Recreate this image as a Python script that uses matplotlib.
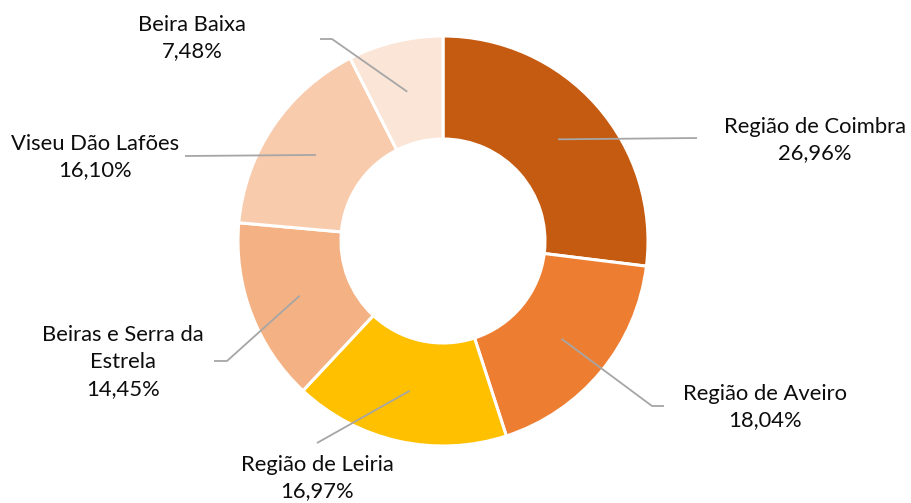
import numpy as np
import matplotlib
matplotlib.use("Agg")
from matplotlib import pyplot as plt

## chart data
regions = ["Região de Coimbra", "Região de Aveiro", "Região de Leiria",
           "Beiras e Serra da\nEstrela", "Viseu Dão Lafões", "Beira Baixa"]
shares = [26.96, 18.04, 16.97, 14.45, 16.10, 7.48]
colours = ["#C55A11", "#ED7D31", "#FFC000", "#F4B183", "#F8CBAD", "#FBE5D6"]

## layout (pixel coords of the 911x503 picture, y down)
W, H = 911, 503
centre_px = (443, 241)
radius = 205
ring = 103
label_pos = [(815, 140), (765, 407), (317, 478), (123, 362), (95, 157), (192, 38)]
elbow_pos = [(697, 138), (652, 406), (317, 443), (227, 361), (185, 156), (332, 39)]
end_pos = [(697, 138), (664, 406), (317, 443), (214, 361), (185, 156), (320, 39)]


def to_data(p):
    return p[0], H - p[1]


plt.rcParams['font.family'] = ['Lato', 'DejaVu Sans']

fig = plt.figure(figsize=(W / 100, H / 100), dpi=100)
ax = fig.add_axes([0, 0, 1, 1])
ax.axis("off")

cx, cy = to_data(centre_px)
ax.pie(shares, colors=colours, startangle=90, counterclock=False,
       center=(cx, cy), radius=radius,
       wedgeprops=dict(width=ring, edgecolor="white", linewidth=2.2))
ax.set_xlim(0, W)
ax.set_ylim(0, H)
ax.set_aspect("auto")

## leader lines start in the middle of each ring slice
cum = np.cumsum([0] + shares)
total = cum[-1]
r_anchor = radius - ring / 2
for i, name in enumerate(regions):
    mid = (cum[i] + cum[i + 1]) / 2 / total * 2 * np.pi
    ax_x = cx + r_anchor * np.sin(mid)
    ax_y = cy + r_anchor * np.cos(mid)
    ex, ey = to_data(elbow_pos[i])
    tx, ty = to_data(end_pos[i])
    ax.plot([ax_x, ex, tx], [ax_y, ey, ty], color="#A6A6A6", lw=1.3,
            solid_capstyle="butt")
    lx, ly = to_data(label_pos[i])
    txt = name + "\n" + f"{shares[i]:.2f}%".replace(".", ",")
    ax.text(lx, ly, txt, ha="center", va="center", fontsize=15.8,
            color="#0D0D0D", linespacing=1.42, multialignment="center")

fig.savefig("out.png", dpi=100)
